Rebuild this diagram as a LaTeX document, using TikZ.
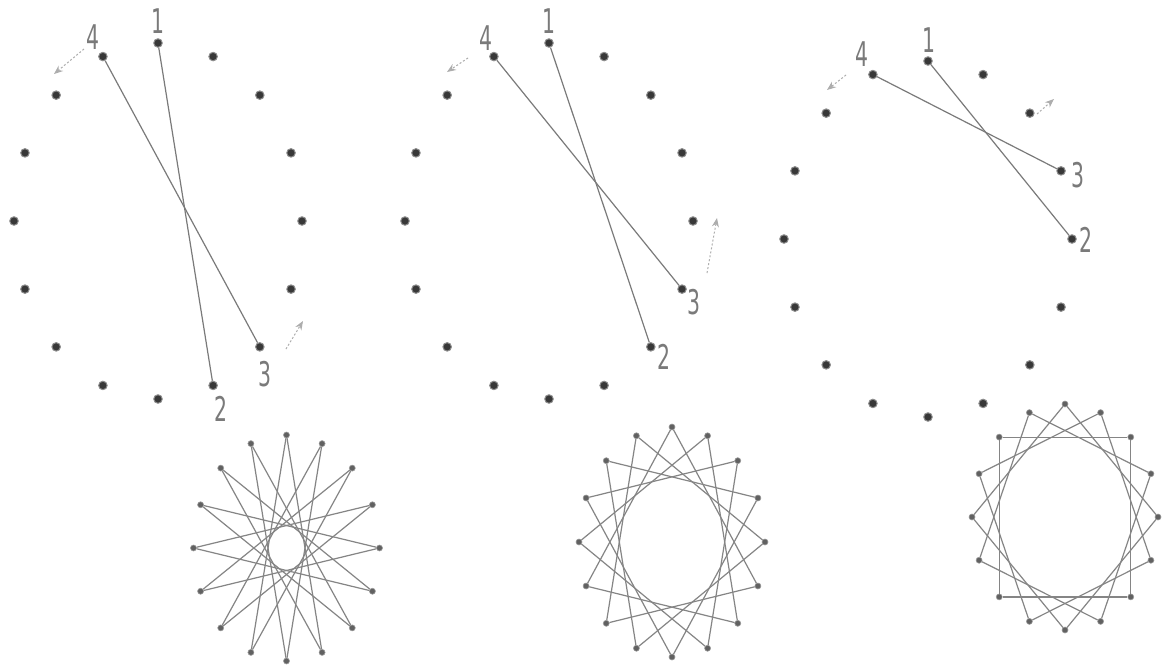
\documentclass[tikz,border=0pt]{standalone}
\usepackage{fontspec}
\setmainfont{DejaVu Sans}
\usetikzlibrary{arrows.meta}
\newcommand{\narrowdigit}[1]{\scalebox{0.6}[1]{#1}}
\tikzset{
  bigdot/.style={circle, fill=black!78, draw=black!45, line width=1pt, inner sep=0pt, minimum size=8.5pt},
  smalldot/.style={circle, fill=black!62, draw=black!40, line width=0.6pt, inner sep=0pt, minimum size=6pt},
  chord/.style={draw=black!52, line width=1.2pt},
  starline/.style={draw=black!48, line width=1.2pt},
  hint/.style={draw=black!32, dash pattern=on 2pt off 2pt, line width=1pt, -{Stealth[length=9pt,width=7pt]}},
  numlabel/.style={text=black!52, font=\fontsize{34}{34}\selectfont, inner sep=0pt},
}
\begin{document}
\begin{tikzpicture}[x=1pt,y=-1pt]
\useasboundingbox (0,0) rectangle (1173,665);
\fill[white] (0,0) rectangle (1173,665);

% top rings of 16 pegs
\foreach \p/\cx/\cy in {a/158/221, b/549/221, c/928/239} {
  \foreach \i in {0,...,15} {
    \node[bigdot] (\p\i) at ({\cx+144*sin(22.5*\i)}, {\cy-178*cos(22.5*\i)}) {};
  }
}

% chords
\draw[chord] (a0) -- (a7);
\draw[chord] (a15) -- (a6);
\draw[chord] (b0) -- (b6);
\draw[chord] (b15) -- (b5);
\draw[chord] (c0) -- (c4);
\draw[chord] (c15) -- (c3);

% labels
\node[numlabel] (la1) at (158,21) {\narrowdigit{1}};
\node[numlabel] (la4) at (93,37) {\narrowdigit{4}};
\node[numlabel] (la3) at (265,374) {\narrowdigit{3}};
\node[numlabel] (la2) at (221,409) {\narrowdigit{2}};
\node[numlabel] (lb1) at (549,21) {\narrowdigit{1}};
\node[numlabel] (lb4) at (486,38) {\narrowdigit{4}};
\node[numlabel] (lb3) at (694,302) {\narrowdigit{3}};
\node[numlabel] (lb2) at (664,357) {\narrowdigit{2}};
\node[numlabel] (lc1) at (929,40) {\narrowdigit{1}};
\node[numlabel] (lc4) at (862,54) {\narrowdigit{4}};
\node[numlabel] (lc3) at (1078,175) {\narrowdigit{3}};
\node[numlabel] (lc2) at (1086,240) {\narrowdigit{2}};

% direction hints
\coordinate (ha1s) at (84,49);   \coordinate (ha1e) at (54,74);
\coordinate (ha2s) at (286,349); \coordinate (ha2e) at (303,321);
\coordinate (hb1s) at (468,58);  \coordinate (hb1e) at (447,72);
\coordinate (hb2s) at (707,273); \coordinate (hb2e) at (717,218);
\coordinate (hc1s) at (846,75);  \coordinate (hc1e) at (827,90);
\coordinate (hc2s) at (1037,114); \coordinate (hc2e) at (1054,99);
\draw[hint] (ha1s) -- (ha1e);
\draw[hint] (ha2s) -- (ha2e);
\draw[hint] (hb1s) -- (hb1e);
\draw[hint] (hb2s) -- (hb2e);
\draw[hint] (hc1s) -- (hc1e);
\draw[hint] (hc2s) -- (hc2e);

% star patterns
\foreach \p/\cx/\cy/\ry/\k in {sa/286.5/548/113/7, sb/672/542/115/5, sc/1065/517/113/4} {
  \foreach \i in {0,...,15} {
    \node[smalldot] (\p\i) at ({\cx+93*sin(22.5*\i)}, {\cy-\ry*cos(22.5*\i)}) {};
  }
  \foreach \i in {0,...,15} {
    \pgfmathtruncatemacro{\j}{mod(\i+\k,16)}
    \draw[starline] (\p\i) -- (\p\j);
  }
}
\end{tikzpicture}
\end{document}
